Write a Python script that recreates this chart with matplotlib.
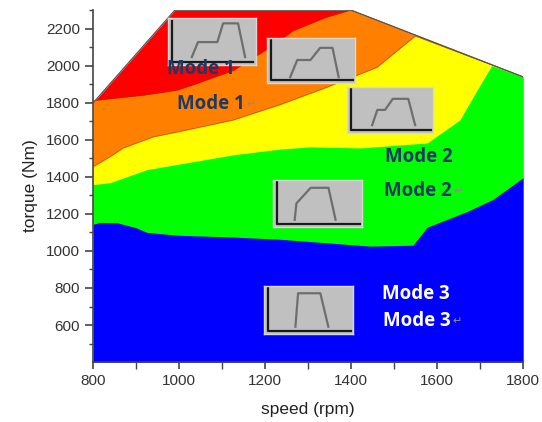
import matplotlib
matplotlib.use("Agg")
import matplotlib.pyplot as plt
import numpy as np

# region tops (speed rpm, torque Nm), drawn layered from red down to blue
envelope_speed = [800, 990, 1400, 1800]
envelope_torque = [1800, 2300, 2300, 1940]

orange_speed = [800, 917, 995, 1042, 1126, 1205, 1265, 1340, 1392, 1400, 1800]
orange_torque = [1812, 1841, 1868, 1905, 1975, 2090, 2189, 2260, 2296, 2300, 1940]

yellow_speed = [800, 840, 870, 940, 1018, 1126, 1235, 1344, 1460, 1549, 1800]
yellow_torque = [1455, 1510, 1556, 1616, 1653, 1707, 1790, 1884, 1991, 2160, 1940]

green_speed = [800, 840, 925, 1018, 1126, 1235, 1305, 1421, 1577, 1653, 1693, 1727, 1800]
green_torque = [1358, 1369, 1439, 1476, 1519, 1550, 1562, 1556, 1583, 1707, 1868, 2000, 1940]

blue_speed = [800, 815, 856, 900, 925, 995, 1125, 1235, 1444, 1544, 1577, 1670, 1730, 1800]
blue_torque = [1144, 1154, 1152, 1125, 1100, 1085, 1075, 1063, 1026, 1031, 1128, 1213, 1278, 1395]

region_colors = ["#FF0000", "#FF8000", "#FFFF00", "#00FF00", "#0000FF"]

# little schematic icons: [left, bottom, width, height] in axes fraction + profile
icon_boxes = [
    [0.174, 0.844, 0.205, 0.133],
    [0.405, 0.793, 0.205, 0.128],
    [0.591, 0.651, 0.200, 0.131],
    [0.419, 0.384, 0.207, 0.134],
    [0.398, 0.080, 0.207, 0.136],
]
icon_x = [
    [0.27, 0.34, 0.56, 0.625, 0.795, 0.875],
    [0.26, 0.34, 0.49, 0.60, 0.74, 0.81],
    [0.29, 0.35, 0.44, 0.53, 0.71, 0.79],
    [0.24, 0.26, 0.42, 0.62, 0.70],
    [0.35, 0.38, 0.63, 0.72],
]
icon_y = [
    [0.17, 0.49, 0.49, 0.89, 0.89, 0.17],
    [0.13, 0.51, 0.51, 0.78, 0.78, 0.13],
    [0.17, 0.50, 0.50, 0.74, 0.74, 0.17],
    [0.15, 0.50, 0.83, 0.83, 0.15],
    [0.15, 0.85, 0.85, 0.15],
]

labels = ["Mode 1", "Mode 1", "Mode 2", "Mode 2", "Mode 3", "Mode 3"]
label_pos = [(0.172, 0.832), (0.194, 0.733), (0.678, 0.583), (0.676, 0.486), (0.672, 0.193), (0.674, 0.116)]
label_return = [False, True, False, True, False, True]
label_colors = ["#1F3864", "#1F3864", "#1F3864", "#1F3864", "white", "white"]

fig = plt.figure(figsize=(5.42, 4.22), dpi=100)
ax = fig.add_axes([0.172, 0.142, 0.793, 0.834])

tops = [(envelope_speed, envelope_torque), (orange_speed, orange_torque),
        (yellow_speed, yellow_torque), (green_speed, green_torque),
        (blue_speed, blue_torque)]
for (sx, ty), col in zip(tops, region_colors):
    ax.fill_between(sx, 400, ty, color=col, linewidth=0, zorder=1)
for sx, ty in tops[:3]:
    ax.plot(sx, ty, color="#804000", lw=0.5, alpha=0.6, zorder=2)
ax.plot(envelope_speed, envelope_torque, color="#555555", lw=0.8, zorder=2)

ax.set_xlim(800, 1800)
ax.set_ylim(400, 2300)
ax.set_xticks([800, 1000, 1200, 1400, 1600, 1800])
ax.set_xticks(np.arange(900, 1800, 200), minor=True)
ax.set_yticks(np.arange(600, 2201, 200))
ax.set_yticks(np.arange(500, 2301, 200), minor=True)

for s in ["top", "right"]:
    ax.spines[s].set_visible(False)
for s in ["left", "bottom"]:
    ax.spines[s].set_color("#444444")
    ax.spines[s].set_linewidth(1.2)
    ax.spines[s].set_zorder(5)
ax.tick_params(which="major", length=6, width=1.2, color="#444444",
               labelsize=11, labelcolor="#333333")
ax.tick_params(which="minor", length=3, width=1.0, color="#444444")
ax.tick_params(axis="x", which="both", length=5)
for t in ax.get_xticklabels() + ax.get_yticklabels():
    t.set_family(["Liberation Sans", "DejaVu Sans"])

ax.set_xlabel("speed (rpm)", fontsize=12.5, color="#222222",
              family=["Liberation Sans"], labelpad=10)
ax.set_ylabel("torque (Nm)", fontsize=12.5, color="#222222",
              family=["Liberation Sans"], labelpad=6)

for box, px, py in zip(icon_boxes, icon_x, icon_y):
    ia = ax.inset_axes(box, zorder=4)
    ia.set_facecolor("#C0C0C0")
    ia.set_xlim(0, 1)
    ia.set_ylim(0, 1)
    ia.set_xticks([])
    ia.set_yticks([])
    for s in ia.spines.values():
        s.set_color("#D8D8D8")
        s.set_linewidth(1)
    ia.plot([0.04, 0.04, 0.97], [0.95, 0.07, 0.07], color="#1A1A1A", lw=1.6)
    ia.plot(px, py, color="#6E6E6E", lw=1.6)

for txt, (lx, ly), ret, col in zip(labels, label_pos, label_return, label_colors):
    t = ax.text(lx, ly, txt, transform=ax.transAxes, fontsize=13.5,
                fontweight="bold", color=col, family=["Open Sans", "DejaVu Sans"],
                ha="left", va="center", zorder=6)
    if ret:
        ax.annotate("\u21b5", xy=(1.0, 0.25), xycoords=t, xytext=(1.5, 0),
                    textcoords="offset points", fontsize=8, color="#8C8C8C",
                    family=["DejaVu Sans"], ha="left", va="bottom", zorder=7)

fig.savefig("out.png", dpi=100)
